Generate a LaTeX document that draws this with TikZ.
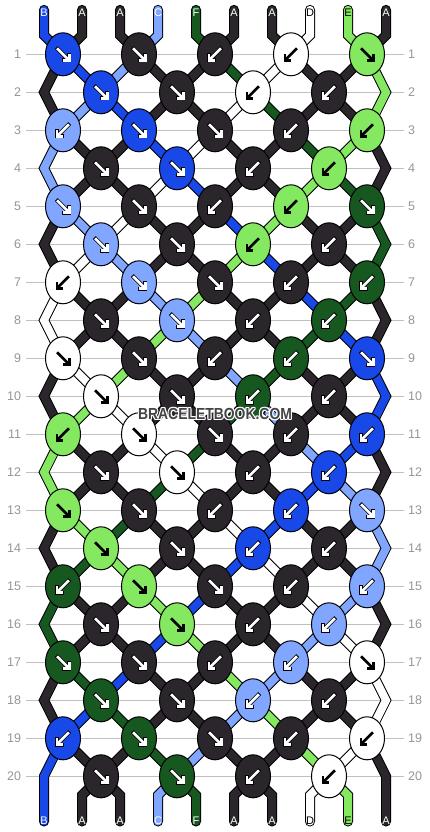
\documentclass[tikz,border=0pt]{standalone}
\usepackage{fontspec}
\setmainfont{Liberation Sans}
\usetikzlibrary{shapes.geometric}
\definecolor{cA}{RGB}{42,38,43}
\definecolor{cB}{RGB}{24,72,232}
\definecolor{cC}{RGB}{128,166,255}
\definecolor{cD}{RGB}{255,255,255}
\definecolor{cE}{RGB}{132,232,96}
\definecolor{cF}{RGB}{22,88,32}
\definecolor{aA}{RGB}{255,255,255}
\definecolor{aB}{RGB}{255,255,255}
\definecolor{aC}{RGB}{255,255,255}
\definecolor{aD}{RGB}{0,0,0}
\definecolor{aE}{RGB}{0,0,0}
\definecolor{aF}{RGB}{255,255,255}
\definecolor{oA}{RGB}{0,0,0}
\definecolor{oB}{RGB}{0,0,0}
\definecolor{oC}{RGB}{0,0,0}
\definecolor{oD}{RGB}{255,255,255}
\definecolor{oE}{RGB}{132,232,96}
\definecolor{oF}{RGB}{0,0,0}
\definecolor{gridg}{RGB}{192,192,192}
\definecolor{numg}{RGB}{150,150,150}
\definecolor{wmc}{RGB}{68,68,68}
\tikzset{
  strand/.style={draw=#1, line width=8pt, line cap=round, line join=miter,
    preaction={draw=black, line width=10pt, line cap=round, line join=miter}},
  knot/.style={ellipse, draw=black, line width=1pt, minimum width=35pt,
    minimum height=43pt, inner sep=0pt},
  gridline/.style={draw=gridg, line width=1pt},
  rownum/.style={text=numg, font=\fontsize{12.5}{12.5}\selectfont, inner sep=0pt},
  toplab/.style={font=\fontsize{11}{11}\selectfont, inner sep=0pt},
  wm/.style={font=\fontsize{16}{16}\selectfont\bfseries, inner sep=0pt, xscale=0.87},
  arrowln/.style={line width=2.6pt, line cap=butt, line join=miter},
  arrowout/.style={line width=4pt, line cap=butt, line join=miter}
}
\begin{document}
\begin{tikzpicture}[x=19pt,y=-38pt]
\fill[white] (-44pt,16.3pt) rectangle (386pt,-815.7pt);
\useasboundingbox (-44pt,16.3pt) rectangle (386pt,-815.7pt);
% grid lines and row numbers
\foreach \r in {1,...,20}{
  \draw[gridline] (-0.95,\r) -- (18.95,\r);
  \node[rownum, anchor=east] (L\r) at (-1.2,\r) {\r};
  \node[rownum, anchor=west] (R\r) at (19.15,\r) {\r};
}
% strings
\foreach \col/\s/\us/\lc in {
  B/0/{1,3,5,7,9,11,13,15,17,18,17,15,13,11,9,7,5,3,1,0}/white,
  A/1/{1,0,1,3,5,7,9,11,13,15,17,18,17,15,13,11,9,7,5,3}/white,
  A/2/{5,7,9,11,13,15,17,18,17,15,13,11,9,7,5,3,1,0,1,3}/white,
  C/3/{5,3,1,0,1,3,5,7,9,11,13,15,17,18,17,15,13,11,9,7}/white,
  F/4/{9,11,13,15,17,18,17,15,13,11,9,7,5,3,1,0,1,3,5,7}/white,
  A/5/{9,7,5,3,1,0,1,3,5,7,9,11,13,15,17,18,17,15,13,11}/white,
  A/6/{13,15,17,18,17,15,13,11,9,7,5,3,1,0,1,3,5,7,9,11}/white,
  D/7/{13,11,9,7,5,3,1,0,1,3,5,7,9,11,13,15,17,18,17,15}/black,
  E/8/{17,18,17,15,13,11,9,7,5,3,1,0,1,3,5,7,9,11,13,15}/black,
  A/9/{17,15,13,11,9,7,5,3,1,0,1,3,5,7,9,11,13,15,17,18}/white}{
  \draw[strand=c\col] (2*\s,-0.17) -- (2*\s,0.5)
    \foreach \u [count=\r] in \us {-- (\u,\r)} -- (2*\s,20.5) -- (2*\s,21.19);
  \node[toplab, text=\lc] (t\s) at (2*\s,-0.095) {\col};
  \node[toplab, text=\lc] (b\s) at (2*\s,21.18) {\col};
}
% knots
\foreach \r/\ks in {
  1/{B/1,A/1,A/-1,D/-1,E/1},
  2/{B/1,A/1,D/-1,A/-1},
  3/{C/-1,B/1,A/1,A/-1,E/-1},
  4/{A/1,B/1,A/-1,E/-1},
  5/{C/1,A/1,A/-1,E/-1,F/1},
  6/{C/1,A/1,E/-1,A/-1},
  7/{D/-1,C/1,A/1,A/-1,F/-1},
  8/{A/1,C/1,A/-1,F/-1},
  9/{D/1,A/1,A/-1,F/-1,B/1},
  10/{D/1,A/1,F/-1,A/-1},
  11/{E/-1,D/1,A/1,A/-1,B/-1},
  12/{A/1,D/1,A/-1,B/-1},
  13/{E/1,A/1,A/-1,B/-1,C/1},
  14/{E/1,A/1,B/-1,A/-1},
  15/{F/-1,E/1,A/1,A/-1,C/-1},
  16/{A/1,E/1,A/-1,C/-1},
  17/{F/1,A/1,A/-1,C/-1,D/1},
  18/{F/1,A/1,C/-1,A/-1},
  19/{B/-1,F/1,A/1,A/-1,D/-1},
  20/{A/1,F/1,A/-1,D/-1}}{
  \foreach \c/\d [count=\i] in \ks {
    \pgfmathtruncatemacro\u{mod(\r,2)==1 ? 4*\i-3 : 4*\i-1}
    \node[knot, fill=c\c] (k\r-\u) at (\u,\r) {};
    \begin{scope}[shift={(\u,\r)}, xscale=\d]
      \draw[arrowout, draw=o\c] (-6.7pt,6.7pt) -- (5pt,-5pt);
      \draw[arrowout, draw=o\c] (6.2pt,0.9pt) -- (6.2pt,-6.2pt) -- (-0.9pt,-6.2pt);
      \draw[arrowln, draw=a\c] (-6pt,6pt) -- (5pt,-5pt);
      \draw[arrowln, draw=a\c] (6.2pt,0.2pt) -- (6.2pt,-6.2pt) -- (-0.2pt,-6.2pt);
    \end{scope}
  }
}
% watermark
\foreach \dx/\dy [count=\i] in {1.2/0,-1.2/0,0/1.2,0/-1.2,1/1,1/-1,-1/1,-1/-1}{
  \node[wm, text=white, xshift=\dx pt, yshift=\dy pt] (wh\i) at (9,10.466) {BRACELETBOOK.COM};
}
\node[wm, text=wmc] (wm) at (9,10.466) {BRACELETBOOK.COM};
\end{tikzpicture}
\end{document}
